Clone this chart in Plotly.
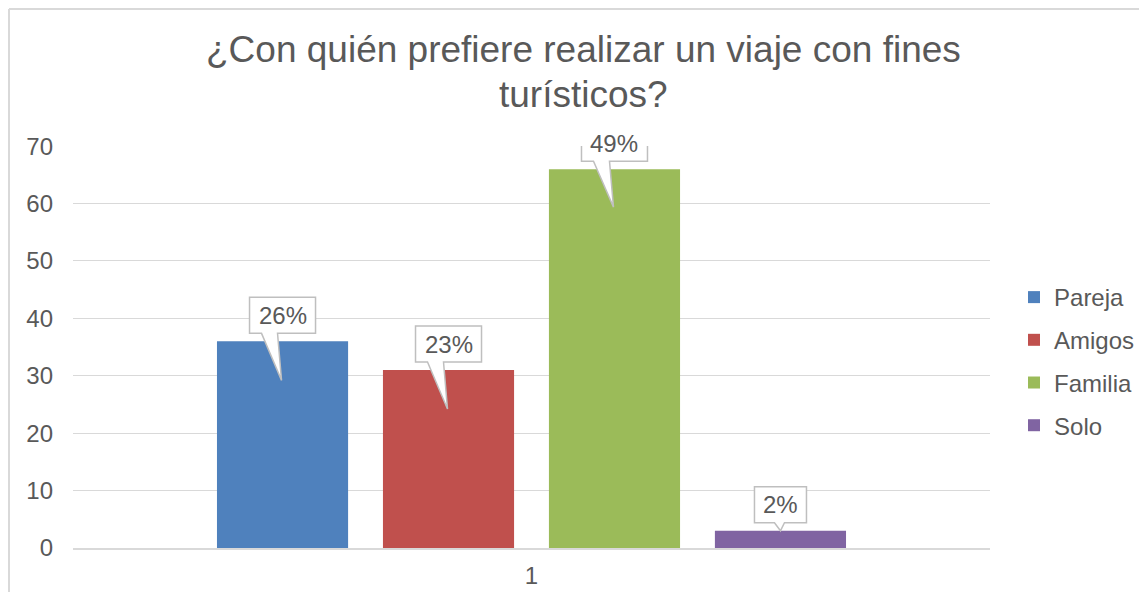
import plotly.graph_objects as go

# data
categories = ["1"]
series_names = ["Pareja", "Amigos", "Familia", "Solo"]
series_values = [36, 31, 66, 3]
percent_labels = ["26%", "23%", "49%", "2%"]
y_ticks = [0, 10, 20, 30, 40, 50, 60, 70]
title_lines = ["¿Con quién prefiere realizar un viaje con fines", "turísticos?"]

colors = ["#4F81BD", "#C0504D", "#9BBB59", "#8064A2"]
text_color = "#595959"
grid_color = "#D9D9D9"
font_family = "Liberation Sans, Arial, sans-serif"

bargap = 0.276
bargroupgap = 0.21

fig = go.Figure()
for i, name in enumerate(series_names):
    fig.add_trace(go.Bar(
        x=[1],
        y=[series_values[i]],
        name=name,
        legendgroup=name,
        marker=dict(color=colors[i], line=dict(width=0)),
        hoverinfo="skip",
    ))

# callout boxes above each bar (box + pointer), pixel offsets from bar top
slot = (1 - bargap) / len(series_names)
box_half = [33, 33, 33, 26]
tip_depth = [39, 39, 38, 0]
for i, name in enumerate(series_names):
    cx = 1 - (1 - bargap) / 2 + slot * (i + 0.5)
    hw = box_half[i]
    yb, yt = 8, 44
    if tip_depth[i] > 0:
        b0, b1, tx, ty = -21, -5, -1, -tip_depth[i]
    else:
        b0, b1, tx, ty = -6, 4, 0, 0
    path = (f"M{-hw},{yb} L{b0},{yb} L{tx},{ty} L{b1},{yb} L{hw},{yb} "
            f"L{hw},{yt} L{-hw},{yt} Z")
    fig.add_shape(
        type="path", path=path,
        xref="x", yref="y", xsizemode="pixel", ysizemode="pixel",
        xanchor=cx, yanchor=series_values[i],
        fillcolor="white", line=dict(color="#BFBFBF", width=1.5),
        layer="above",
    )
    fig.add_annotation(
        x=cx, y=series_values[i], xref="x", yref="y",
        text=percent_labels[i], showarrow=False, yshift=26,
        font=dict(family=font_family, size=24, color=text_color),
    )

# title, two lines
for line, ypos in zip(title_lines, [1.2400, 1.1281]):
    fig.add_annotation(
        x=0.5562, y=ypos, xref="paper", yref="paper",
        xanchor="center", yanchor="middle", showarrow=False,
        text=line, font=dict(family=font_family, size=37, color=text_color),
    )

# outer chart border (left and top edges visible)
fig.add_shape(type="line", xref="paper", yref="paper",
              x0=-0.0698, x1=-0.0698, y0=-0.3, y1=1.3408,
              line=dict(color=grid_color, width=2))
fig.add_shape(type="line", xref="paper", yref="paper",
              x0=-0.0698, x1=1.3, y0=1.3408, y1=1.3408,
              line=dict(color=grid_color, width=2))

fig.update_layout(
    width=1131, height=584,
    margin=dict(l=65, r=149, t=138, b=44, autoexpand=False),
    paper_bgcolor="white", plot_bgcolor="white",
    barmode="group", bargap=bargap, bargroupgap=bargroupgap,
    font=dict(family=font_family, size=24, color=text_color),
    xaxis=dict(
        range=[0.5, 1.5], tickvals=[1], ticktext=categories,
        showgrid=False, zeroline=False, showline=True,
        linecolor=grid_color, linewidth=1.5, ticks="",
        ticklabelstandoff=5, automargin=False,
        tickfont=dict(size=24, color=text_color),
    ),
    yaxis=dict(
        range=[0, 70.03], tickvals=y_ticks, showgrid=True,
        gridcolor=grid_color, gridwidth=1, zeroline=False,
        showline=False, ticks="", ticklabelstandoff=19, automargin=False,
        tickfont=dict(size=24, color=text_color),
    ),
    legend=dict(
        x=1.0262, xanchor="left", y=0.4639, yanchor="middle",
        font=dict(size=24, color=text_color),
        tracegroupgap=8.5, bgcolor="rgba(0,0,0,0)",
    ),
    showlegend=True,
)

fig.write_html("out.html")
